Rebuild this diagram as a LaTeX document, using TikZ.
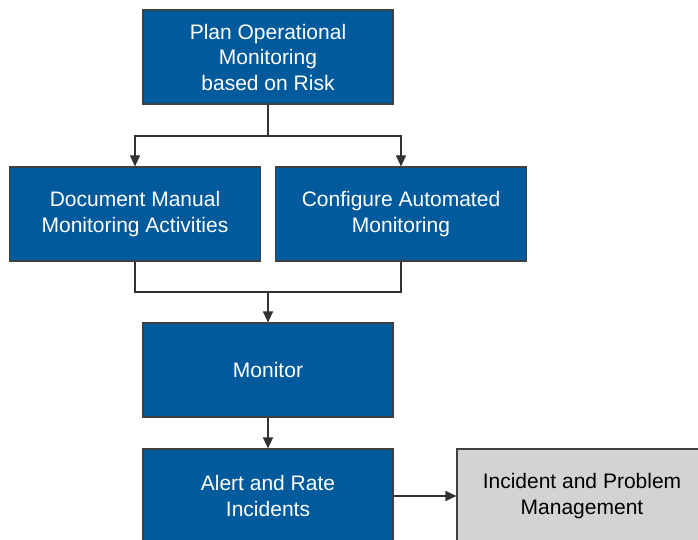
\documentclass[tikz,border=0pt]{standalone}
\usepackage{fontspec}
\setmainfont{Liberation Sans}
\usetikzlibrary{arrows.meta}
\definecolor{boxblue}{RGB}{0,90,156}
\definecolor{boxgray}{RGB}{212,210,212}
\definecolor{edgegray}{RGB}{64,64,64}
\definecolor{linegray}{RGB}{50,50,50}
\begin{document}
\begin{tikzpicture}[x=1pt,y=-1pt,
  box/.style={draw=edgegray, line width=1.2pt, minimum width=250pt, minimum height=94pt,
    inner sep=0pt, align=center, font=\fontsize{21}{25.5}\selectfont},
  bluebox/.style={box, fill=boxblue, text=white},
  graybox/.style={box, fill=boxgray, text=black},
  conn/.style={draw=linegray, line width=1.2pt},
  arr/.style={conn, -{Triangle[width=10pt,length=11pt]}}]
\useasboundingbox (0,0) rectangle (698,540);
\clip (0,0) rectangle (698,540);
\fill[white] (0,0) rectangle (698,540);
\node[bluebox] (plan) at (268,57) {Plan Operational\\Monitoring\\based on Risk};
\node[bluebox, minimum width=251pt] (doc) at (135,214) {Document Manual\\Monitoring Activities};
\node[bluebox, minimum width=251pt] (conf) at (401,214) {Configure Automated\\Monitoring};
\node[bluebox] (mon) at (268,370) {Monitor};
\node[bluebox] (alert) at (268,496) {Alert and Rate\\Incidents};
\node[graybox] (ipm) at (582,496) {Incident and Problem\\Management};
\coordinate (split) at (268,136);
\coordinate (merge) at (268,292);
\draw[conn] (plan.south) -- (split);
\draw[arr] (split) -| (doc.north);
\draw[arr] (split) -| (conf.north);
\draw[conn] (doc.south) |- (merge);
\draw[conn] (conf.south) |- (merge);
\draw[arr] (merge) -- (mon.north);
\draw[arr] (mon.south) -- (alert.north);
\draw[arr] (alert.east) -- (ipm.west);
\end{tikzpicture}
\end{document}
